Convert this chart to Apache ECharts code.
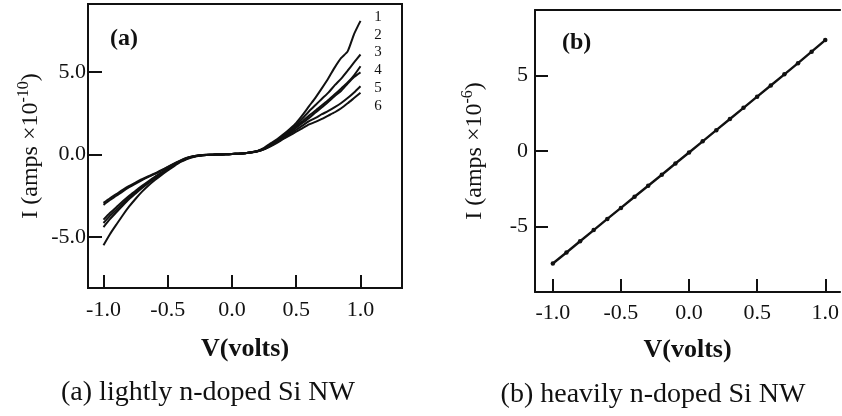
<!DOCTYPE html>
<html>
<head>
<meta charset="utf-8">
<script src="https://cdn.jsdelivr.net/npm/echarts@6/dist/echarts.min.js"></script>
<style>
  html, body { margin: 0; padding: 0; background: #fff; }
  #c { width: 842px; height: 416px; }
</style>
</head>
<body>
<div id="c"></div>
<script>
// Panel (a): lightly doped wire, six I-V sweeps (current in units of 1e-10 A)
const voltsA = [-1.00, -0.95, -0.90, -0.85, -0.80, -0.75, -0.70, -0.65, -0.60, -0.55,
                -0.50, -0.45, -0.40, -0.35, -0.30, -0.25, -0.20, -0.15, -0.10, -0.05,
                 0.00,  0.05,  0.10,  0.15,  0.20,  0.25,  0.30,  0.35,  0.40,  0.45,
                 0.50,  0.55,  0.60,  0.65,  0.70,  0.75,  0.80,  0.85,  0.90,  0.95, 1.00];
const sweep1 = [-5.5, -4.83, -4.25, -3.68, -3.15, -2.68, -2.25, -1.88, -1.55, -1.25,
                -0.97, -0.7, -0.45, -0.27, -0.15, -0.07, -0.03, -0.01, 0.0, 0.01,
                 0.03, 0.05, 0.08, 0.13, 0.22, 0.4, 0.68, 0.92, 1.22, 1.55,
                 1.92, 2.4, 2.93, 3.45, 4.02, 4.62, 5.28, 5.85, 6.25, 7.3, 8.1];
const sweep2 = [-4.4, -3.92, -3.5, -3.09, -2.7, -2.36, -2.03, -1.72, -1.43, -1.16,
                -0.9, -0.65, -0.42, -0.24, -0.13, -0.06, -0.03, -0.01, 0.0, 0.01,
                 0.03, 0.05, 0.08, 0.13, 0.21, 0.36, 0.6, 0.85, 1.12, 1.45,
                 1.8, 2.2, 2.62, 3.0, 3.38, 3.75, 4.2, 4.6, 5.08, 5.58, 6.06];
const sweep3 = [-4.15, -3.72, -3.35, -2.97, -2.6, -2.28, -1.97, -1.68, -1.4, -1.13,
                -0.87, -0.63, -0.41, -0.24, -0.12, -0.06, -0.03, -0.01, 0.0, 0.01,
                 0.03, 0.05, 0.08, 0.13, 0.21, 0.35, 0.58, 0.82, 1.07, 1.38,
                 1.72, 2.02, 2.36, 2.66, 2.98, 3.3, 3.65, 4.0, 4.36, 4.8, 5.35];
const sweep4 = [-3.95, -3.55, -3.2, -2.84, -2.5, -2.2, -1.9, -1.62, -1.35, -1.1,
                -0.85, -0.62, -0.4, -0.23, -0.12, -0.06, -0.03, -0.01, 0.0, 0.01,
                 0.03, 0.05, 0.08, 0.13, 0.2, 0.34, 0.56, 0.79, 1.03, 1.32,
                 1.62, 1.92, 2.22, 2.55, 2.86, 3.2, 3.55, 3.86, 4.3, 4.7, 4.98];
const sweep5 = [-3.05, -2.76, -2.5, -2.23, -1.98, -1.76, -1.55, -1.36, -1.18, -0.98,
                -0.77, -0.56, -0.37, -0.21, -0.11, -0.05, -0.02, -0.01, 0.0, 0.01,
                 0.03, 0.05, 0.08, 0.12, 0.2, 0.33, 0.53, 0.75, 0.98, 1.24,
                 1.5, 1.76, 2.02, 2.22, 2.44, 2.64, 2.87, 3.12, 3.42, 3.76, 4.14];
const sweep6 = [-2.93, -2.65, -2.4, -2.14, -1.9, -1.7, -1.5, -1.32, -1.15, -0.95,
                -0.75, -0.55, -0.36, -0.2, -0.1, -0.05, -0.02, -0.01, 0.0, 0.01,
                 0.03, 0.05, 0.08, 0.12, 0.19, 0.32, 0.5, 0.71, 0.94, 1.16,
                 1.38, 1.6, 1.82, 1.98, 2.16, 2.36, 2.56, 2.8, 3.1, 3.42, 3.74];
const sweepNames = ['1', '2', '3', '4', '5', '6'];

// Panel (b): heavily doped wire (current in units of 1e-6 A)
const voltsB = [-1.0, -0.9, -0.8, -0.7, -0.6, -0.5, -0.4, -0.3, -0.2, -0.1,
                 0.0, 0.1, 0.2, 0.3, 0.4, 0.5, 0.6, 0.7, 0.8, 0.9, 1.0];
const currentB = [-7.45, -6.72, -5.98, -5.24, -4.5, -3.77, -3.03, -2.3, -1.57, -0.83,
                  -0.1, 0.64, 1.38, 2.12, 2.86, 3.6, 4.34, 5.08, 5.82, 6.58, 7.35];

// Tick positions
const voltTicks = [-1.0, -0.5, 0.0, 0.5, 1.0];
const currentTicksA = [-5, 0, 5];
const currentTicksB = [-5, 0, 5];

const serif = '"Liberation Serif", "Times New Roman", serif';
const ink = '#111';

function pairs(xs, ys) { return xs.map((x, i) => [x, ys[i]]); }

function valueAxis(gridIndex, min, max, ticks, fmt, tickLen, margin, extra) {
  return Object.assign({
    type: 'value', gridIndex, min, max,
    splitLine: { show: false },
    axisLine: { show: true, onZero: false, lineStyle: { color: ink, width: 2 } },
    axisTick: { show: true, inside: true, length: tickLen, customValues: ticks,
                lineStyle: { color: ink, width: 2 } },
    axisLabel: { show: true, customValues: ticks, formatter: fmt, margin,
                 fontFamily: serif, fontSize: 22, color: ink }
  }, extra);
}

const yName = (exp) => '{t|I (amps \u00d710}{s|' + exp + '}{t|)}';
const yNameStyle = {
  rich: {
    t: { fontFamily: serif, fontSize: 24, color: ink, lineHeight: 30 },
    s: { fontFamily: serif, fontSize: 16, color: ink, lineHeight: 16, verticalAlign: 'top' }
  }
};
const xNameStyle = { fontFamily: serif, fontSize: 26, fontWeight: 'bold', color: ink };

const sweeps = [sweep1, sweep2, sweep3, sweep4, sweep5, sweep6];
const bMin = -1.131, bMax = 1.109;

const option = {
  backgroundColor: '#fff',
  animation: false,
  grid: [
    { left: 88, top: 4, width: 314, height: 284, show: true, borderColor: ink, borderWidth: 2 },
    { left: 535, top: 10, width: 307, height: 282 }
  ],
  xAxis: [
    valueAxis(0, -1.1206, 1.323, voltTicks, v => v.toFixed(1), 13, 11,
      { name: 'V(volts)', nameLocation: 'middle', nameGap: 48, nameTextStyle: xNameStyle }),
    valueAxis(1, bMin, bMax, voltTicks, v => v.toFixed(1), 13, 10,
      { name: 'V(volts)', nameLocation: 'middle', nameGap: 45, nameTextStyle: xNameStyle }),
    // upper frame line of panel (b)
    { type: 'value', gridIndex: 1, position: 'top', min: bMin, max: bMax,
      splitLine: { show: false }, axisTick: { show: false }, axisLabel: { show: false },
      axisLine: { show: true, onZero: false, lineStyle: { color: ink, width: 2 } } }
  ],
  yAxis: [
    valueAxis(0, -8.09, 9.12, currentTicksA, v => v.toFixed(1), 14, 2,
      { name: yName('-10'), nameLocation: 'middle', nameRotate: 90, nameGap: 42, nameTextStyle: yNameStyle }),
    valueAxis(1, -9.34, 9.34, currentTicksB, v => String(v), 13, 7,
      { name: yName('-6'), nameLocation: 'middle', nameRotate: 90, nameGap: 45, nameTextStyle: yNameStyle })
  ],
  series: sweeps.map((s, i) => ({
    name: sweepNames[i], type: 'line', xAxisIndex: 0, yAxisIndex: 0,
    data: pairs(voltsA, s), showSymbol: false, smooth: 0.2,
    lineStyle: { color: ink, width: 2 }
  })).concat([{
    name: 'b', type: 'line', xAxisIndex: 1, yAxisIndex: 1,
    data: pairs(voltsB, currentB), symbol: 'circle', symbolSize: 4.5,
    itemStyle: { color: ink }, lineStyle: { color: ink, width: 2.4 }
  }]),
  graphic: [
    { type: 'text', left: 110, top: 27, style: { text: '(a)', font: 'bold 24px ' + serif, fill: ink } },
    { type: 'text', left: 562, top: 31, style: { text: '(b)', font: 'bold 24px ' + serif, fill: ink } },
    { type: 'text', x: 208, y: 393, style: { text: '(a) lightly n-doped Si NW', font: '28px ' + serif, fill: ink, align: 'center', verticalAlign: 'middle' } },
    { type: 'text', x: 653, y: 395, style: { text: '(b) heavily n-doped Si NW', font: '28px ' + serif, fill: ink, align: 'center', verticalAlign: 'middle' } }
  ].concat(sweepNames.map((n, i) => ({
    type: 'text', x: 378, y: [17, 35, 52, 70, 88, 106][i],
    style: { text: n, font: '15px ' + serif, fill: ink, align: 'center', verticalAlign: 'middle' }
  })))
};

const chart = echarts.init(document.getElementById('c'));
chart.setOption(option);
</script>
</body>
</html>
